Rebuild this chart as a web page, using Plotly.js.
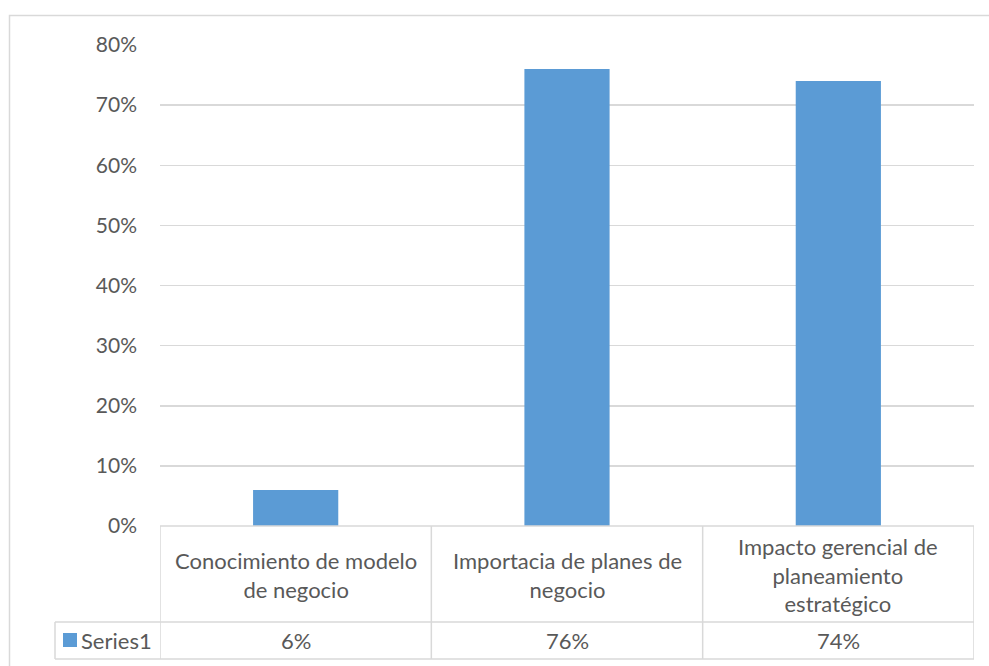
<!DOCTYPE html>
<html>
<head>
<meta charset="utf-8">
<script src="https://cdn.plot.ly/plotly-3.0.1.min.js"></script>
<style>
  html, body { margin: 0; padding: 0; background: #ffffff; }
  #chart { width: 989px; height: 666px; }
</style>
</head>
<body>
<div id="chart"></div>
<script>
// Survey results: share of respondents per topic
const categories = [
  'Conocimiento de modelo<br>de negocio',
  'Importacia de planes de<br>negocio',
  'Impacto gerencial de<br>planeamiento<br>estratégico'
];
const seriesName = 'Series1';
const values = [0.06, 0.76, 0.74];
const yTickVals = [0, 0.1, 0.2, 0.3, 0.4, 0.5, 0.6, 0.7, 0.8];
const yTickText = ['0%', '10%', '20%', '30%', '40%', '50%', '60%', '70%', '80%'];

const W = 989, H = 666;
const M = { l: 160, r: 15, t: 45, b: 140 };
const plotW = W - M.l - M.r, plotH = H - M.t - M.b;
const px = x => (x - M.l) / plotW;          // pixel -> paper x
const py = y => (H - M.b - y) / plotH;      // pixel -> paper y

const textColor = '#595959';
const lineColor = '#D9D9D9';
const barColor = '#5B9BD5';
const fontFam = 'Lato, "Open Sans", sans-serif';
const tickSize = 21;
const tableSize = 22;

const shapes = [];
const annotations = [];

// outer chart frame
shapes.push({ type: 'rect', xref: 'paper', yref: 'paper',
  x0: px(9.5), x1: px(1100), y0: py(15.5), y1: py(800),
  line: { color: lineColor, width: 1.5 }, fillcolor: 'rgba(0,0,0,0)', layer: 'below' });

// data table grid under the axis
const nCat = categories.length;
const rowTop = 526, rowMid = 622, rowBot = 659, legendLeft = 55;
shapes.push({ type: 'line', xref: 'x', yref: 'paper', x0: -0.5, x1: nCat - 0.5, y0: py(rowTop), y1: py(rowTop), line: { color: lineColor, width: 1.5 } });
shapes.push({ type: 'line', xref: 'paper', yref: 'paper', x0: px(legendLeft), x1: 1, y0: py(rowMid), y1: py(rowMid), line: { color: lineColor, width: 1.5 } });
shapes.push({ type: 'line', xref: 'paper', yref: 'paper', x0: px(legendLeft), x1: 1, y0: py(rowBot), y1: py(rowBot), line: { color: lineColor, width: 1.5 } });
shapes.push({ type: 'line', xref: 'paper', yref: 'paper', x0: px(legendLeft), x1: px(legendLeft), y0: py(rowMid), y1: py(rowBot), line: { color: lineColor, width: 1.5 } });
for (let i = 0; i <= nCat; i++) {
  shapes.push({ type: 'line', xref: 'x', yref: 'paper', x0: i - 0.5, x1: i - 0.5,
    y0: py(rowTop), y1: py(rowBot), line: { color: lineColor, width: 1.5 } });
}
// legend key
shapes.push({ type: 'rect', xref: 'paper', yref: 'paper',
  x0: px(63), x1: px(77), y0: py(647), y1: py(633),
  line: { width: 0 }, fillcolor: barColor });

categories.forEach((c, i) => {
  annotations.push({ xref: 'x', yref: 'paper', x: i, y: py((rowTop + rowMid) / 2 + 1),
    text: c, showarrow: false, xanchor: 'center', yanchor: 'middle',
    font: { family: fontFam, size: tableSize, color: textColor } });
  annotations.push({ xref: 'x', yref: 'paper', x: i, y: py((rowMid + rowBot) / 2),
    text: Math.round(values[i] * 100) + '%', showarrow: false, xanchor: 'center', yanchor: 'middle',
    font: { family: fontFam, size: tableSize, color: textColor } });
});
annotations.push({ xref: 'paper', yref: 'paper', x: px(79), y: py((rowMid + rowBot) / 2),
  text: seriesName, showarrow: false, xanchor: 'left', yanchor: 'middle',
  font: { family: fontFam, size: tableSize, color: textColor } });

const trace = {
  type: 'bar', x: categories, y: values, name: seriesName,
  marker: { color: barColor, line: { width: 0 } },
  hoverinfo: 'skip'
};

const layout = {
  width: W, height: H,
  margin: M,
  paper_bgcolor: '#ffffff', plot_bgcolor: '#ffffff',
  showlegend: false,
  bargap: 0.686,
  font: { family: fontFam, color: textColor },
  xaxis: { type: 'category', showticklabels: false, showgrid: false, zeroline: false,
    showline: false, ticks: '', range: [-0.5, nCat - 0.5] },
  yaxis: { range: [0, 0.8], tickvals: yTickVals, ticktext: yTickText,
    showgrid: true, gridcolor: lineColor, gridwidth: 1.5, zeroline: false, showline: false,
    ticks: '', ticklabelstandoff: 22,
    tickfont: { family: fontFam, size: tickSize, color: textColor } },
  shapes: shapes,
  annotations: annotations
};

Plotly.newPlot('chart', [trace], layout, { displayModeBar: false, staticPlot: true });
</script>
</body>
</html>
